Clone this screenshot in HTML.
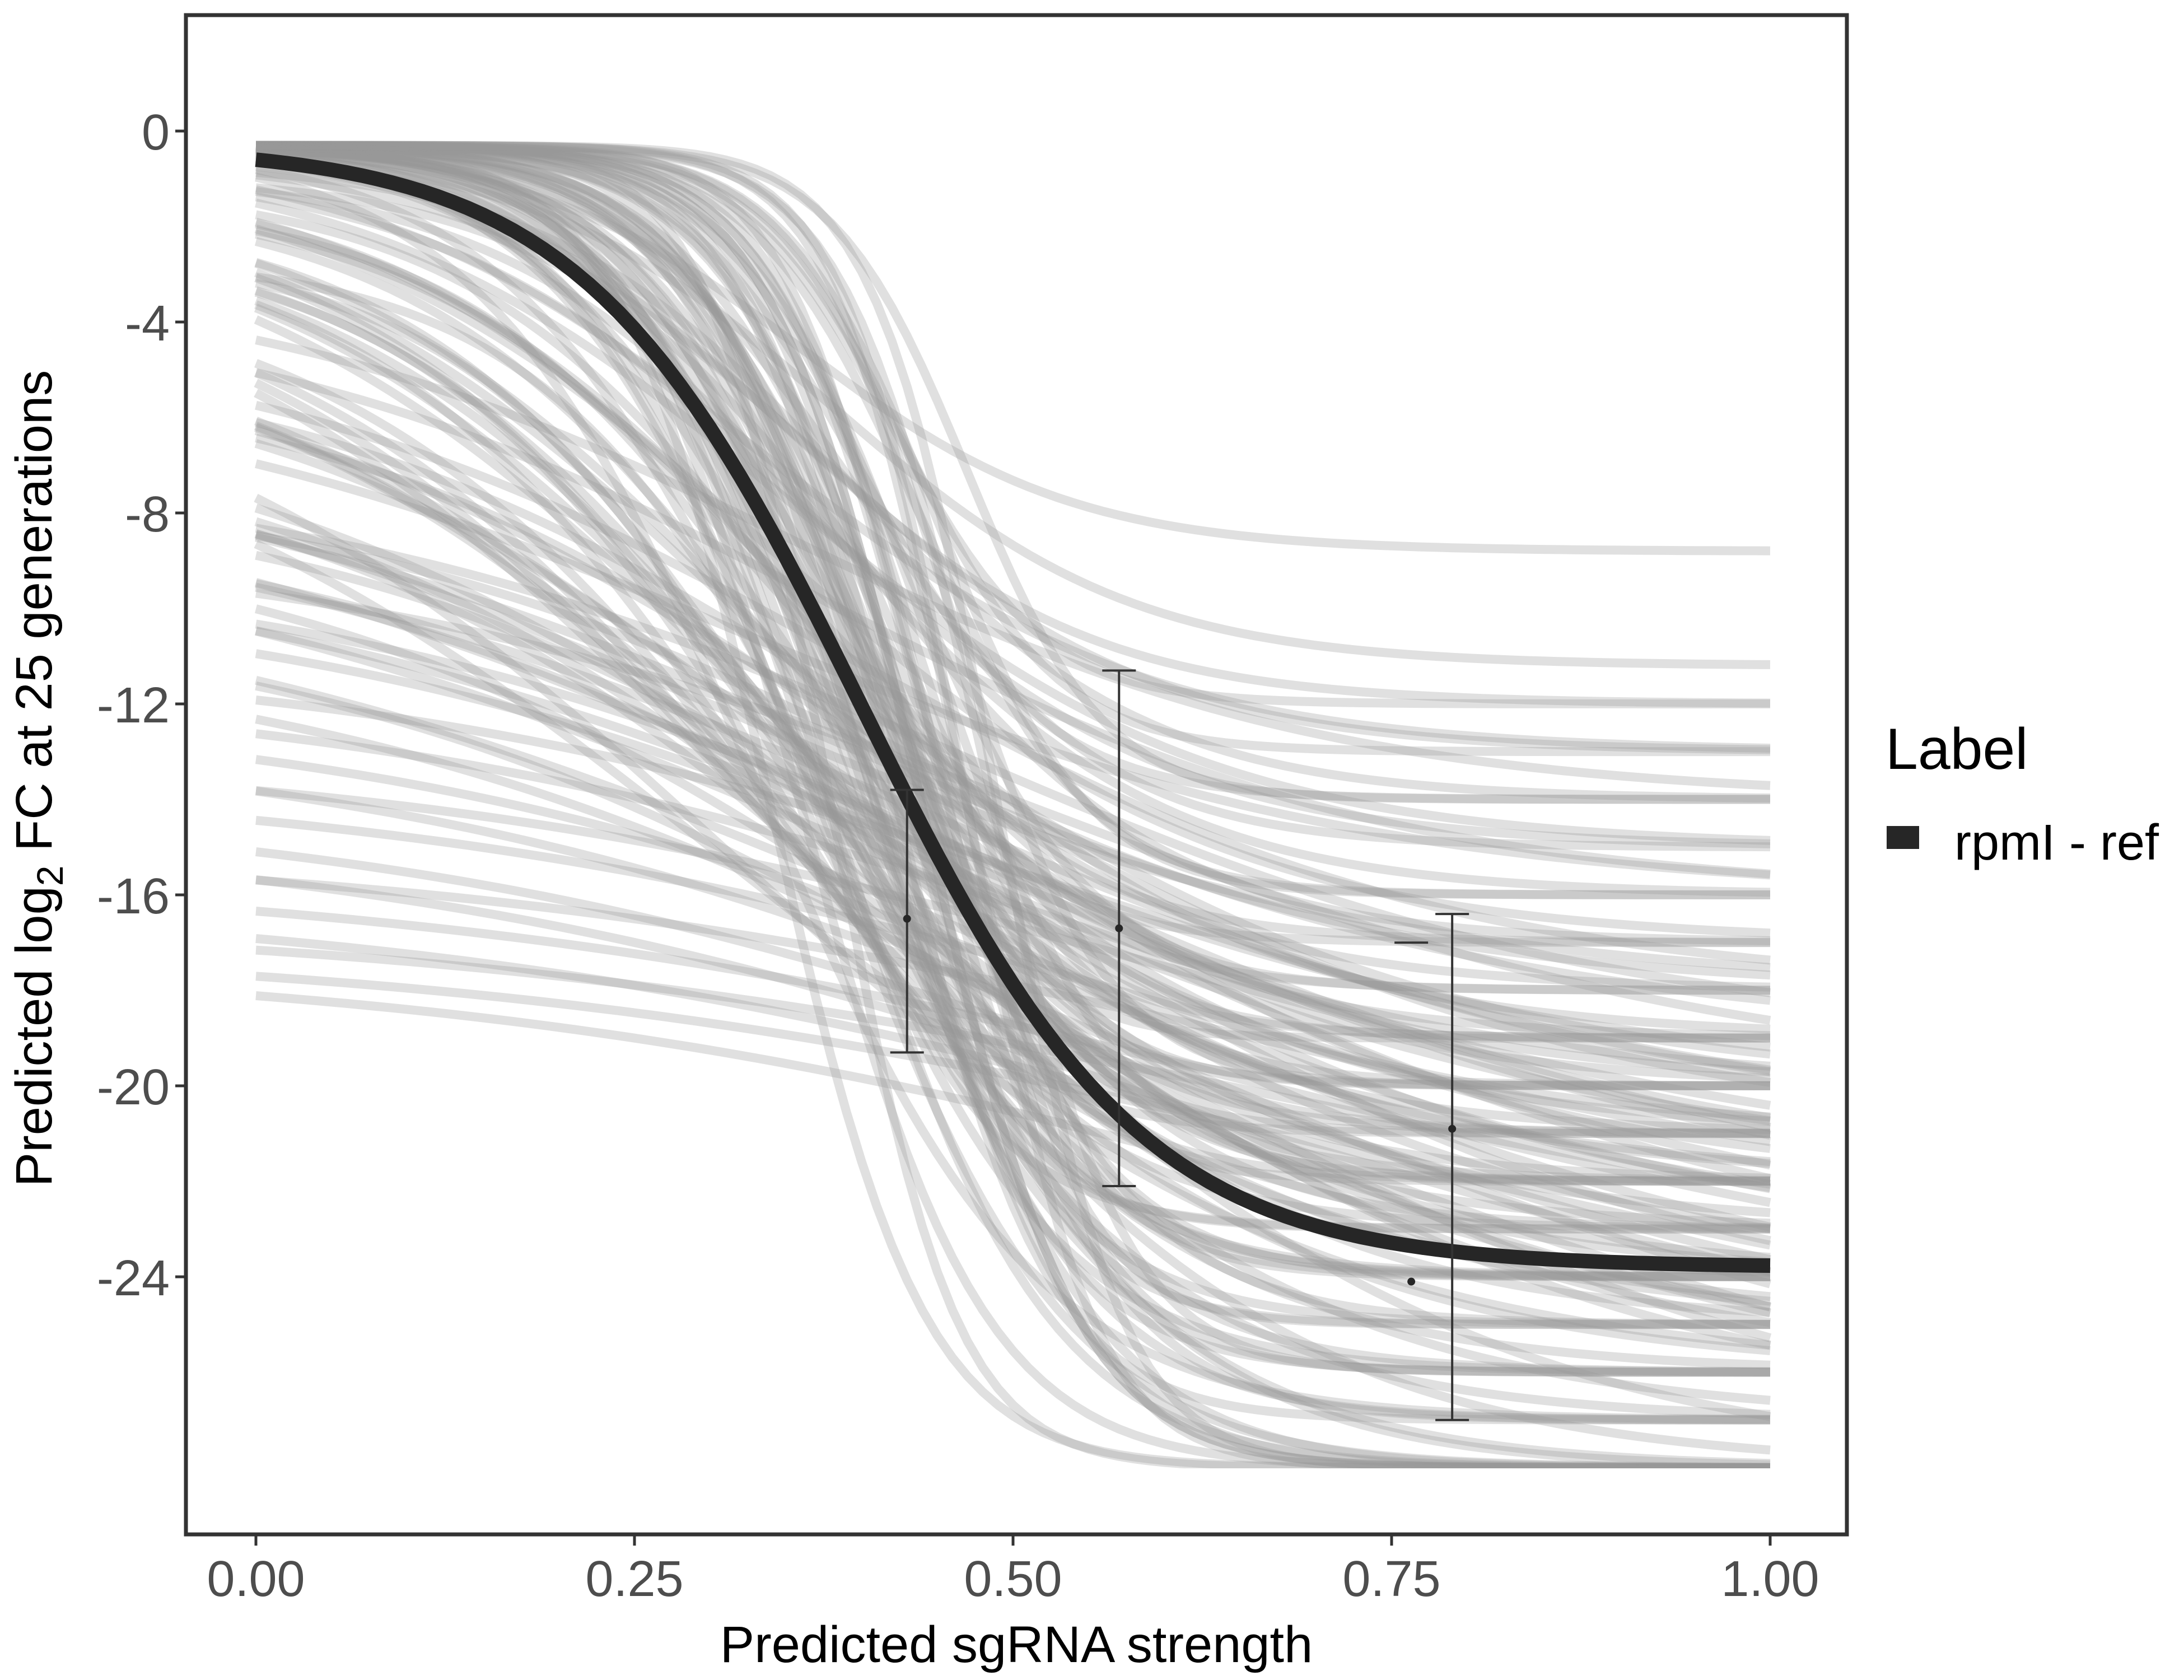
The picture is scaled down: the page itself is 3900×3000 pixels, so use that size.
<!DOCTYPE html>
<html><head><meta charset="utf-8"><style>
html,body{margin:0;padding:0;background:#fff}
svg{display:block;font-family:"Liberation Sans",sans-serif}
</style></head><body>
<svg id="chart" width="3900" height="3000" viewBox="0 0 3900 3000" xmlns="http://www.w3.org/2000/svg">
<defs><clipPath id="clipLow"><rect x="0" y="0" width="3900" height="2622"/></clipPath></defs>
<rect x="332" y="27" width="2966" height="2713" fill="#fff"/>
<g id="draws" clip-path="url(#clipLow)"></g>
<g id="main"></g>
<g id="errs"></g>
<rect x="332" y="27" width="2966" height="2713" fill="none" stroke="#333" stroke-width="7"/>
<g id="xticks"></g>
<g id="yticks"></g>
<text x="1815" y="2968" font-size="92" text-anchor="middle" fill="#000">Predicted sgRNA strength</text>
<text transform="translate(92,1390) rotate(-90)" font-size="92" text-anchor="middle" fill="#000">Predicted  log<tspan font-size="66" dy="20">2</tspan><tspan dy="-20"> FC at 25 generations</tspan></text>
<text x="3367" y="1373" font-size="104" fill="#000">Label</text>
<rect x="3369" y="1475" width="58" height="41" fill="#262626"/>
<text x="3490" y="1535" font-size="90" fill="#000">rpmI - ref</text>
</svg>
<script>
// gray posterior draws: [top, bottom, midpoint, scale]
const drawTops = [
 -0.3,-0.3,-0.3,-0.3,-0.3,-0.3,-0.3,-0.3,-0.3,-0.3,-0.3,-0.3,-0.3,-0.3,-0.3,-0.3,-0.3,-0.3,-0.3,-0.3,
 -0.3,-0.3,-0.3,-0.3,-0.3,-0.3,-0.3,-0.3,-0.3,-0.3,-0.3,-0.3,-0.3,-0.3,-0.3,-0.3,-0.3,-0.3,-0.3,-0.3,
 -0.3,-0.3,-0.3,-0.3,-0.3,-0.3,-0.3,-0.3,-0.3,-0.3,-0.3,-0.3,-0.3,-0.3,-0.3,-0.3,-0.3,-0.3,-0.3,-0.3,
 -0.3,-0.3,-0.4,-0.5,-0.6,-0.7,-0.8,-0.9,-1.0,-1.1,-1.2,-1.3,-1.4,-1.5,-1.6,-1.8,-2.0,-2.2,-2.4,-2.6,
 -0.3,-0.4,-0.5,-0.6,-0.8,-1.0,-1.2,-1.4,-1.7,-2.0,-2.3,-2.6,-2.9,-3.2,-3.5,-3.8,-4.1,-4.4,-4.7,-5.0,
 -3.0,-3.5,-4.0,-4.5,-5.0,-5.5,-6.0,-6.5,-7.0,-7.2,-7.4,-7.8,-8.0,-8.5,-9.0,-9.5,-10,-10.5,-11,-11.5,
 -12,-12.5,-13,-13.5,-14,-14.5,-15,-15.5,-16,-16.5,-17,-17.3,-6.0,-7.0,-8.0,-9.0,-5.0,-6.5,-7.5,-8.5];
const drawBottoms = [
 -12,-14,-16,-18,-19,-20,-21,-22,-23,-24,-25,-26,-27,-28,-28,-13,-15,-17,-19,-20,
 -21,-22,-23,-24,-25,-26,-27,-28,-28,-28,-14,-16,-18,-20,-21,-22,-23,-24,-25,-26,
 -27,-28,-28,-28,-17,-19,-21,-22,-23,-24,-25,-26,-27,-28,-28,-20,-22,-24,-26,-28,
 -8.8,-11.2,-12,-13,-14,-15,-16,-17,-18,-19,-20,-21,-22,-23,-24,-25,-26,-27,-28,-28,
 -13,-15,-17,-19,-20,-21,-22,-23,-24,-25,-26,-27,-28,-20,-22,-24,-26,-18,-21,-25,
 -14,-16,-18,-20,-22,-24,-26,-28,-19,-21,-23,-25,-27,-20,-22,-24,-26,-28,-21,-23,
 -25,-27,-22,-24,-26,-28,-23,-25,-27,-24,-26,-28,-18,-20,-22,-24,-16,-19,-21,-23];
const drawMids = [
 0.42,0.40,0.44,0.38,0.41,0.43,0.37,0.45,0.40,0.39,0.42,0.36,0.44,0.41,0.38,0.43,0.40,0.37,0.42,0.46,
 0.35,0.37,0.39,0.41,0.43,0.39,0.33,0.34,0.36,0.38,0.47,0.45,0.43,0.41,0.39,0.37,0.35,0.44,0.46,0.48,
 0.40,0.42,0.44,0.47,0.36,0.38,0.40,0.42,0.34,0.36,0.38,0.40,0.42,0.44,0.49,0.39,0.41,0.43,0.45,0.37,
 0.36,0.38,0.35,0.37,0.39,0.36,0.38,0.40,0.34,0.36,0.38,0.35,0.37,0.33,0.35,0.37,0.34,0.36,0.38,0.40,
 0.33,0.35,0.34,0.36,0.33,0.35,0.32,0.34,0.36,0.31,0.33,0.35,0.37,0.30,0.32,0.34,0.31,0.33,0.35,0.30,
 0.35,0.37,0.39,0.41,0.43,0.40,0.42,0.44,0.46,0.48,0.45,0.50,0.47,0.52,0.50,0.55,0.48,0.56,0.55,0.60,
 0.58,0.62,0.60,0.65,0.62,0.68,0.66,0.70,0.72,0.68,0.74,0.75,0.30,0.35,0.40,0.45,0.32,0.38,0.44,0.50];
const drawScales = [
 0.05,0.06,0.055,0.07,0.065,0.05,0.08,0.06,0.09,0.07,0.05,0.08,0.06,0.07,0.04,0.05,0.08,0.06,0.04,0.05,
 0.06,0.07,0.05,0.06,0.07,0.08,0.09,0.05,0.06,0.07,0.045,0.05,0.06,0.07,0.08,0.09,0.06,0.05,0.04,0.045,
 0.07,0.06,0.05,0.04,0.08,0.07,0.06,0.05,0.09,0.08,0.07,0.06,0.05,0.05,0.04,0.06,0.07,0.06,0.05,0.08,
 0.09,0.10,0.10,0.11,0.10,0.12,0.11,0.10,0.12,0.11,0.13,0.12,0.11,0.13,0.12,0.14,0.13,0.12,0.11,0.10,
 0.13,0.14,0.15,0.14,0.16,0.15,0.17,0.16,0.15,0.18,0.17,0.16,0.15,0.19,0.18,0.17,0.19,0.18,0.17,0.20,
 0.18,0.19,0.20,0.19,0.18,0.21,0.20,0.19,0.22,0.21,0.20,0.23,0.22,0.24,0.23,0.25,0.22,0.26,0.24,0.27,
 0.25,0.27,0.26,0.28,0.27,0.29,0.28,0.30,0.30,0.29,0.30,0.30,0.22,0.24,0.26,0.28,0.21,0.23,0.25,0.27];
// main curve
const mainTop = -0.3, mainBottom = -23.8, mainMid = 0.40, mainScale = 0.092;
// observed points with error bars
const obsX = [0.43, 0.57, 0.79];
const obsY = [-16.5, -16.7, -20.9];
const obsLo = [-19.3, -22.1, -27.0];
const obsHi = [-13.8, -11.3, -16.4];
const extraX = [0.763], extraY = [-24.1];
const dashX = [0.763], dashY = [-17.0];
const xTicks = [0, 0.25, 0.5, 0.75, 1];
const xTickLabels = ["0.00","0.25","0.50","0.75","1.00"];
const yTicks = [0, -4, -8, -12, -16, -20, -24];
const yTickLabels = ["0","-4","-8","-12","-16","-20","-24"];

const NS = "http://www.w3.org/2000/svg";
const X = v => 457 + v * 2704;
const Y = v => 234 - v * 85.25;
function sig(t,b,m,s,x){return t + (b-t)/(1+Math.exp(-(x-m)/s));}
function pathFor(t,b,m,s){let d="";for(let i=0;i<=100;i++){const x=i/100;d+=(i?"L":"M")+X(x).toFixed(1)+","+Y(sig(t,b,m,s,x)).toFixed(1);}return d;}

const dg = document.getElementById("draws");
for (let i=0;i<drawTops.length;i++){
  const p=document.createElementNS(NS,"path");
  p.setAttribute("d",pathFor(drawTops[i],drawBottoms[i],drawMids[i],drawScales[i]));
  p.setAttribute("fill","none");p.setAttribute("stroke","#999");
  p.setAttribute("stroke-opacity","0.3");p.setAttribute("stroke-width","16");
  
  
  dg.appendChild(p);
}
const mg=document.getElementById("main");
const mp=document.createElementNS(NS,"path");
mp.setAttribute("d",pathFor(mainTop,mainBottom,mainMid,mainScale));
mp.setAttribute("fill","none");mp.setAttribute("stroke","#262626");mp.setAttribute("stroke-width","26");


mg.appendChild(mp);

const eg=document.getElementById("errs");
function line(g,x1,y1,x2,y2,w,name){const l=document.createElementNS(NS,"line");
  l.setAttribute("x1",x1);l.setAttribute("y1",y1);l.setAttribute("x2",x2);l.setAttribute("y2",y2);
  l.setAttribute("stroke","#333");l.setAttribute("stroke-width",w);
  
  
  g.appendChild(l);}
function dot(x,y){const c=document.createElementNS(NS,"circle");
  c.setAttribute("cx",x);c.setAttribute("cy",y);c.setAttribute("r",7);c.setAttribute("fill","#262626");
  
  
  eg.appendChild(c);}
for(let i=0;i<obsX.length;i++){
  const x=X(obsX[i]);
  line(eg,x,Y(obsLo[i]),x,Y(obsHi[i]),4,"error-bar");
  line(eg,x-30,Y(obsLo[i]),x+30,Y(obsLo[i]),4,"error-cap-low");
  line(eg,x-30,Y(obsHi[i]),x+30,Y(obsHi[i]),4,"error-cap-high");
  dot(x,Y(obsY[i]));
}
for(let i=0;i<extraX.length;i++) dot(X(extraX[i]),Y(extraY[i]));
for(let i=0;i<dashX.length;i++) line(eg,X(dashX[i])-30,Y(dashY[i]),X(dashX[i])+30,Y(dashY[i]),4,"error-cap-dash");

const xg=document.getElementById("xticks");
xTicks.forEach((v,i)=>{
  line(xg,X(v),2743,X(v),2760,5,"x-tick");
  const t=document.createElementNS(NS,"text");
  t.setAttribute("x",X(v));t.setAttribute("y",2850);t.setAttribute("font-size","90");
  t.setAttribute("text-anchor","middle");t.setAttribute("fill","#4d4d4d");
  t.textContent=xTickLabels[i];
  
  
  xg.appendChild(t);
});
const yg=document.getElementById("yticks");
yTicks.forEach((v,i)=>{
  line(yg,313,Y(v),330,Y(v),5,"y-tick");
  const t=document.createElementNS(NS,"text");
  t.setAttribute("x",303);t.setAttribute("y",Y(v)+33);t.setAttribute("font-size","90");
  t.setAttribute("text-anchor","end");t.setAttribute("fill","#4d4d4d");
  t.textContent=yTickLabels[i];
  
  
  yg.appendChild(t);
});
</script>
</body></html>
